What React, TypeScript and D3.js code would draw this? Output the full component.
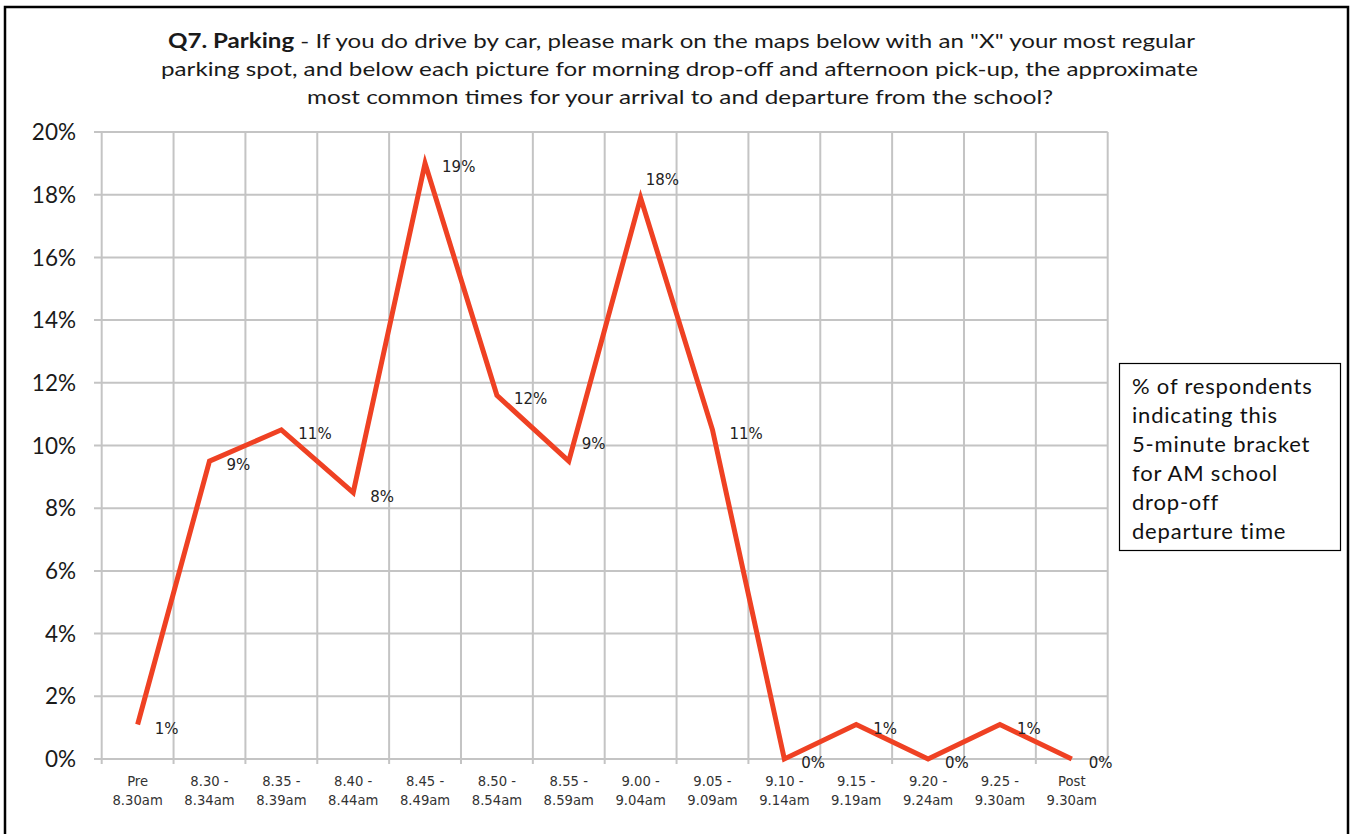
import React from "react";
import * as d3 from "d3";

const categoryTop = ["Pre", "8.30 -", "8.35 -", "8.40 -", "8.45 -", "8.50 -", "8.55 -", "9.00 -", "9.05 -", "9.10 -", "9.15 -", "9.20 -", "9.25 -", "Post"];
const categoryBottom = ["8.30am", "8.34am", "8.39am", "8.44am", "8.49am", "8.54am", "8.59am", "9.04am", "9.09am", "9.14am", "9.19am", "9.24am", "9.30am", "9.30am"];
const values = [1.1, 9.5, 10.5, 8.5, 19.0, 11.6, 9.5, 17.9, 10.5, 0, 1.1, 0, 1.1, 0];
const valueLabels = ["1%", "9%", "11%", "8%", "19%", "12%", "9%", "18%", "11%", "0%", "1%", "0%", "1%", "0%"];
const yTicks = [0, 2, 4, 6, 8, 10, 12, 14, 16, 18, 20];
const titleLines = [
  "parking spot, and below each picture for morning drop-off and afternoon pick-up, the approximate",
  "most common times for your arrival to and departure from the school?",
];
const noteLines = ["% of respondents", "indicating this", "5-minute bracket", "for AM school", "drop-off", "departure time"];

// label placement tweaks (relative to point), like manual Excel label moves
const labelShift: Record<number, [number, number]> = { 6: [13, -21], 7: [5, -22] };

export default function App() {
  const W = 1353, H = 834;
  const left = 101.7, right = 1107.7, top = 132, bottom = 759;
  const idx = values.map((_, i) => i);
  const x = d3.scaleBand<number>().domain(idx).range([left, right]);
  const y = d3.scaleLinear().domain([0, 20]).range([bottom, top]);
  const cx = (i: number) => (x(i) as number) + x.bandwidth() / 2;
  const line = d3.line<number>().x((_, i) => cx(i)).y((d) => y(d));
  const grid = "#c4c4c4";
  const red = "#ef4123";
  const calibri = "Lato, 'Open Sans', sans-serif";
  const verd = "'DejaVu Sans', Verdana, sans-serif";
  const bounds = idx.map((i) => x(i) as number).concat([right]);

  return (
    <svg width={W} height={H} style={{ position: "absolute", left: 0, top: 0, background: "#fff" }}>
      <rect x={0} y={0} width={W} height={H} fill="#fff" />
      <rect x={5} y={7} width={1343} height={840} fill="none" stroke="#000" strokeWidth={2.5} />
      {/* title */}
      <text x={168} y={48} fontFamily={calibri} fontSize={20} fill="#1a1a1a" textLength={1027} lengthAdjust="spacingAndGlyphs">
        <tspan fontWeight="bold">Q7. Parking</tspan>
        <tspan> - If you do drive by car, please mark on the maps below with an "X" your most regular</tspan>
      </text>
      <text x={161} y={76} fontFamily={calibri} fontSize={20} fill="#1a1a1a" textLength={1037} lengthAdjust="spacingAndGlyphs">
        {titleLines[0]}
      </text>
      <text x={307} y={104} fontFamily={calibri} fontSize={20} fill="#1a1a1a" textLength={746} lengthAdjust="spacingAndGlyphs">
        {titleLines[1]}
      </text>
      {/* horizontal grid */}
      {yTicks.map((t) => (
        <g key={"h" + t}>
          <line x1={94} x2={right} y1={y(t)} y2={y(t)} stroke={grid} strokeWidth={2} />
          <text x={76} y={y(t)} dy="0.36em" textAnchor="end" fontFamily={calibri} fontSize={22.5} fill="#1a1a1a">
            {t}%
          </text>
        </g>
      ))}
      {/* vertical grid */}
      {bounds.map((b, i) => (
        <line key={"v" + i} x1={b} x2={b} y1={top} y2={i === bounds.length - 1 ? bottom : bottom + 5} stroke={grid} strokeWidth={2} />
      ))}
      {/* x labels */}
      {idx.map((i) => (
        <text key={"x" + i} x={cx(i)} textAnchor="middle" fontFamily={verd} fontSize={13.2} fill="#333">
          <tspan x={cx(i)} y={786}>{categoryTop[i]}</tspan>
          <tspan x={cx(i)} y={805}>{categoryBottom[i]}</tspan>
        </text>
      ))}
      {/* line */}
      <path d={line(values) || ""} fill="none" stroke={red} strokeWidth={5} strokeLinejoin="miter" strokeLinecap="butt" />
      {/* data labels */}
      {idx.map((i) => {
        const [dx, dy] = labelShift[i] || [17, 0];
        return (
          <text key={"l" + i} x={cx(i) + dx} y={y(values[i]) + dy} dy="0.35em" fontFamily={verd} fontSize={15} fill="#222">
            <tspan dy="9">{valueLabels[i]}</tspan>
          </text>
        );
      })}
      {/* note box */}
      <rect x={1119.5} y={363.5} width={221} height={187} fill="#fff" stroke="#000" strokeWidth={1.2} />
      {noteLines.map((s, i) => (
        <text key={"n" + i} x={1132} y={393.5 + i * 29} fontFamily={calibri} fontSize={22} letterSpacing={0.8} fill="#111">
          {s}
        </text>
      ))}
    </svg>
  );
}
